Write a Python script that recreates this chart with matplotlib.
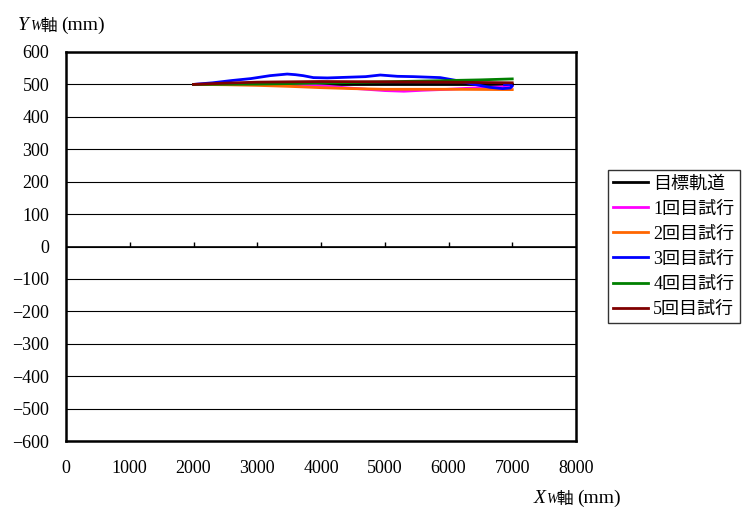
import matplotlib
matplotlib.use('Agg')
import matplotlib.pyplot as plt

plt.rcParams['font.family'] = ['Liberation Serif', 'Noto Sans CJK JP']
plt.rcParams['axes.unicode_minus'] = True

# trajectory data (mm)
target_x = [2000, 7000]
target_y = [500, 500]

run1_x = [2000, 2500, 3000, 3500, 4000, 4500, 5000, 5300, 5600, 6000, 6500, 6800, 7000, 6950]
run1_y = [500, 502, 503, 502, 496, 488, 481, 479, 482, 485, 490, 492, 494, 497]

run2_x = [2000, 2500, 3000, 3500, 4000, 4500, 5000, 6000, 7000]
run2_y = [500, 499, 497, 494, 490, 487, 485, 485, 484]

run3_x = [2000, 2300, 2600, 2900, 3200, 3470, 3600, 3720, 3880, 4100, 4400, 4700, 4930,
          5200, 5450, 5870, 6130, 6380, 6650, 6850, 6970, 7000, 6960, 6880]
run3_y = [500, 505, 512, 518, 527, 532, 530, 527, 521, 520, 522, 524, 529,
          525, 524, 521, 512, 501, 491, 487, 489, 495, 500, 499]

run4_x = [2000, 3000, 4000, 5000, 6000, 6500, 7000]
run4_y = [500, 501, 504, 508, 512, 514, 517]

run5_x = [2000, 2500, 3000, 4000, 5000, 6000, 7000]
run5_y = [500, 504, 507, 509, 508, 507, 505]

labels = ['目標軌道', '1回目試行', '2回目試行', '3回目試行', '4回目試行', '5回目試行']
colors = ['#000000', '#FF00FF', '#FF6600', '#0000FF', '#008000', '#800000']

xticks = list(range(0, 8001, 1000))
yticks = list(range(-600, 601, 100))

fig = plt.figure(figsize=(7.42, 5.09), dpi=100)
ax = fig.add_axes([66 / 742, 68 / 509, 510 / 742, 389 / 509])

series = [(target_x, target_y), (run1_x, run1_y), (run2_x, run2_y),
          (run3_x, run3_y), (run4_x, run4_y), (run5_x, run5_y)]
for (xs, ys), lab, c in zip(series, labels, colors):
    ax.plot(xs, ys, color=c, lw=2.0, label=lab, solid_joinstyle='round')

ax.set_xlim(0, 8000)
ax.set_ylim(-600, 600)
ax.set_xticks(xticks)
ax.set_yticks(yticks)
ax.set_yticklabels([str(v).replace('-', '\u2212') for v in yticks])
ax.tick_params(axis='x', length=0, pad=14, labelsize=13)
ax.tick_params(axis='y', length=0, pad=12, labelsize=13)

# horizontal gridlines
for v in yticks:
    ax.axhline(v, color='black', lw=0.8, zorder=0)
# x axis crossing at y = 0 with upward ticks
ax.axhline(0, color='black', lw=1.2, zorder=1)
ax.vlines(xticks[1:-1], 0, 14, color='black', lw=1.0)

for sp in ax.spines.values():
    sp.set_linewidth(1.8)
    sp.set_color('black')


def axis_label(x, y, letter):
    # italic letter, smaller italic W, then 軸 (mm)
    fig.text(x / 742, 1 - y / 509, letter, fontsize=14, style='italic',
             family='Liberation Serif', ha='left', va='baseline')
    fig.text((x + 12) / 742, 1 - y / 509, 'W', fontsize=10, style='italic',
             family='Liberation Serif', ha='left', va='baseline')
    fig.text((x + 22) / 742, 1 - (y + 1) / 509, '軸', fontsize=12,
             family='Noto Sans CJK JP', ha='left', va='baseline')
    fig.text((x + 43) / 742, 1 - y / 509, '(mm)', fontsize=14,
             family='Liberation Serif', ha='left', va='baseline')


axis_label(18, 30, 'Y')
axis_label(534, 503, 'X')

leg = ax.legend(loc='upper left', bbox_to_anchor=(608 / 742, 1 - 170 / 509),
                bbox_transform=fig.transFigure, frameon=True, fancybox=False,
                fontsize=13, handlelength=1.9, handletextpad=0.3,
                borderpad=0.3, labelspacing=0.45, borderaxespad=0)
leg.get_frame().set_edgecolor('black')
leg.get_frame().set_linewidth(1.0)

fig.savefig('out.png', dpi=100)
